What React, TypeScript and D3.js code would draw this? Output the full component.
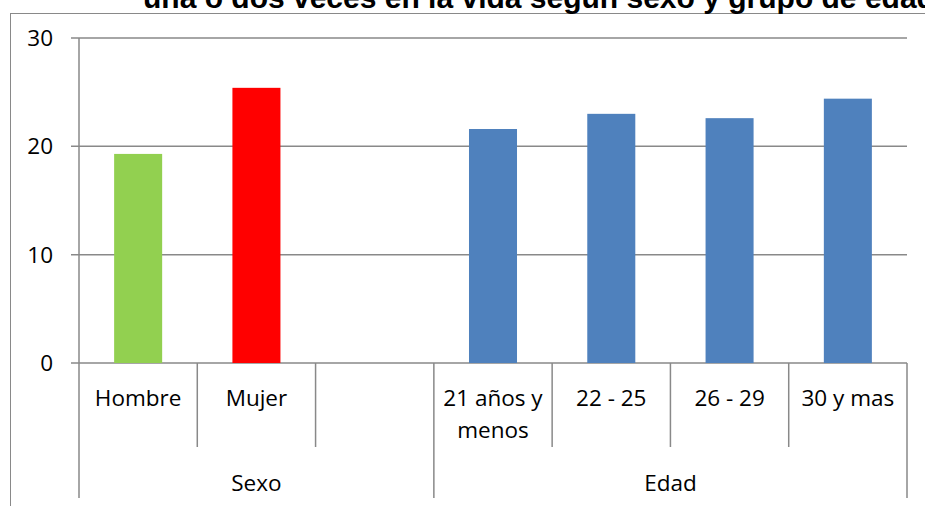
import { useEffect, useRef } from "react";
import * as d3 from "d3";

const categories = ["Hombre", "Mujer", "", "21 años y menos", "22 - 25", "26 - 29", "30 y mas"];
const labelLines = [["Hombre"], ["Mujer"], [""], ["21 años y", "menos"], ["22 - 25"], ["26 - 29"], ["30 y mas"]];
const values = [19.3, 25.4, null, 21.6, 23.0, 22.6, 24.4];
const barColors = ["#92D050", "#FF0000", "#4F81BD", "#4F81BD", "#4F81BD", "#4F81BD", "#4F81BD"];
const groupNames = ["Sexo", "Edad"];
const groupSizes = [3, 4];
const yTicks = [0, 10, 20, 30];
const title = "una o dos veces en la vida según sexo y grupo de edad";

export default function App() {
  const width = 925;
  const height = 506;
  const margin = { top: 38, right: 18, bottom: 143, left: 79 };
  const svgRef = useRef<SVGSVGElement>(null);

  useEffect(() => {
    document.body.style.margin = "0";
    const svg = d3.select(svgRef.current);
    svg.selectAll("*").remove();

    const grey = "#898989";
    const font = "'Open Sans', sans-serif";
    const x0 = margin.left;
    const x1 = width - margin.right;
    const yBase = height - margin.bottom;

    const x = d3.scaleBand<string>().domain(categories.map((c, i) => i + c)).range([x0, x1]).padding(0);
    const y = d3.scaleLinear().domain([0, 30]).range([yBase, margin.top]);
    const step = x.bandwidth();
    const barW = step * 0.406;

    // outer chart border
    svg
      .append("rect")
      .attr("x", 10.5)
      .attr("y", 13.5)
      .attr("width", 960)
      .attr("height", 560)
      .attr("fill", "none")
      .attr("stroke", grey)
      .attr("stroke-width", 1);

    // title (cut off at the top, as in the source)
    svg
      .append("text")
      .attr("x", 143)
      .attr("y", 8)
      .attr("font-family", "'Liberation Sans', Arial, sans-serif")
      .attr("font-weight", "bold")
      .attr("font-size", 30)
      .attr("fill", "#000")
      .text(title);

    // gridlines
    svg
      .append("g")
      .selectAll("line")
      .data(yTicks)
      .join("line")
      .attr("x1", x0 - 8)
      .attr("x2", x1)
      .attr("y1", (d) => y(d))
      .attr("y2", (d) => y(d))
      .attr("stroke", grey)
      .attr("stroke-width", 1.5);

    // y axis
    svg
      .append("line")
      .attr("x1", x0)
      .attr("x2", x0)
      .attr("y1", margin.top)
      .attr("y2", yBase)
      .attr("stroke", grey)
      .attr("stroke-width", 1.5);

    svg
      .append("g")
      .selectAll("text")
      .data(yTicks)
      .join("text")
      .attr("x", 53)
      .attr("y", (d) => y(d))
      .attr("dy", "0.36em")
      .attr("text-anchor", "end")
      .attr("font-family", font)
      .attr("font-size", 22.5)
      .text((d) => d);

    // bars
    svg
      .append("g")
      .selectAll("rect")
      .data(values.map((v, i) => ({ v, i })).filter((d) => d.v != null))
      .join("rect")
      .attr("x", (d) => (x(d.i + categories[d.i]) ?? 0) + (step - barW) / 2)
      .attr("width", barW)
      .attr("y", (d) => y(d.v as number))
      .attr("height", (d) => yBase - y(d.v as number))
      .attr("fill", (d) => barColors[d.i]);

    // category tick lines
    const bounds = categories.map((c, i) => (x(i + c) ?? 0)).concat([x1]);
    const groupEdges = [0];
    groupSizes.forEach((s) => groupEdges.push(groupEdges[groupEdges.length - 1] + s));

    svg
      .append("g")
      .selectAll("line")
      .data(bounds.map((b, i) => ({ b, i })))
      .join("line")
      .attr("x1", (d) => d.b)
      .attr("x2", (d) => d.b)
      .attr("y1", yBase)
      .attr("y2", (d) => (groupEdges.includes(d.i) ? 498 : 447))
      .attr("stroke", grey)
      .attr("stroke-width", 1.5);

    // category labels
    const lab = svg.append("g").attr("font-family", font).attr("font-size", 22.5).attr("text-anchor", "middle");
    labelLines.forEach((lines, i) => {
      lines.forEach((t, j) => {
        lab
          .append("text")
          .attr("x", (x(i + categories[i]) ?? 0) + step / 2)
          .attr("y", 406 + j * 32)
          .text(t);
      });
    });

    // group labels
    groupNames.forEach((g, i) => {
      const a = bounds[groupEdges[i]];
      const b = bounds[groupEdges[i + 1]];
      lab
        .append("text")
        .attr("x", (a + b) / 2)
        .attr("y", 491)
        .text(g);
    });
  }, []);

  return (
    <svg
      ref={svgRef}
      width={width}
      height={height}
      style={{ display: "block", background: "#fff" }}
    />
  );
}
